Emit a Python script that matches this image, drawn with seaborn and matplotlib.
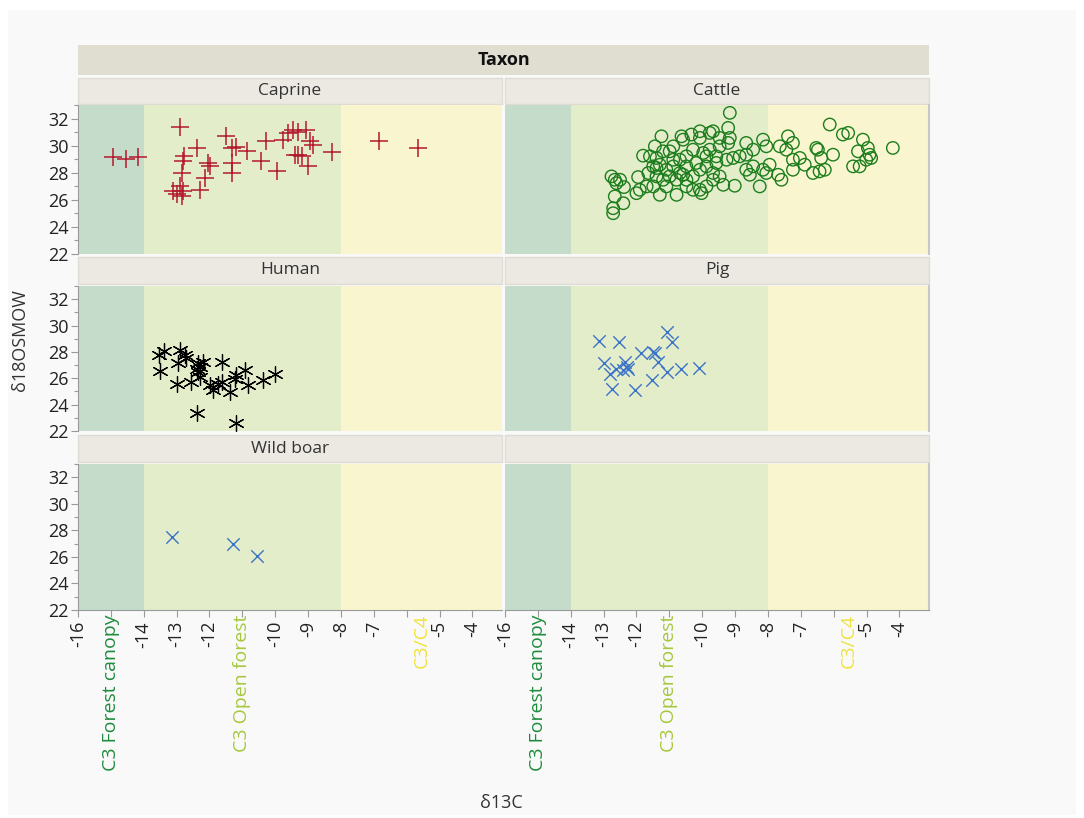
import pandas as pd
import numpy as np
import seaborn as sns
import matplotlib.pyplot as plt
from matplotlib.patches import Rectangle
from matplotlib.ticker import MultipleLocator

sns.set_style("white")
plt.rcParams['font.family'] = ['Open Sans', 'DejaVu Sans']
plt.rcParams['axes.unicode_minus'] = False

# datos (d13C, d18O SMOW)
caprine_x = [-14.95, -14.54, -14.17, -12.90, -13.10, -12.90, -12.85, -12.80, -12.85, -12.82,
             -12.77, -12.39, -12.29, -12.04, -11.99, -12.14, -11.50, -11.31, -11.18, -11.31,
             -11.31, -10.85, -10.42, -10.27, -9.96, -9.76, -9.61, -9.46, -9.32, -9.05,
             -9.30, -9.40, -9.17, -8.95, -8.85, -9.00, -8.27, -6.85, -5.66, -13.00]
caprine_y = [29.16, 29.04, 29.16, 31.38, 26.67, 26.99, 26.25, 26.62, 27.98, 28.84,
             29.21, 29.83, 26.74, 28.72, 28.47, 27.61, 30.74, 29.83, 29.90, 28.72,
             27.98, 29.58, 28.84, 30.32, 28.10, 30.44, 30.94, 31.19, 30.99, 31.19,
             29.33, 29.30, 29.20, 30.32, 30.07, 28.47, 29.53, 30.37, 29.83, 26.40]

cattle_x = [-12.76, -12.66, -12.50, -12.61, -12.38, -12.66, -12.40, -12.71, -12.71, -11.95,
            -11.90, -12.00, -11.24, -11.44, -11.80, -11.59, -11.39, -11.19, -10.99, -10.88,
            -10.63, -10.58, -10.33, -10.07, -10.07, -9.77, -9.67, -9.47, -9.21, -9.16,
            -9.16, -9.21, -8.66, -8.15, -8.05, -8.45, -8.66, -8.86, -9.06, -9.26,
            -9.57, -9.77, -9.97, -10.28, -10.48, -10.68, -10.88, -11.09, -11.29, -11.49,
            -11.64, -11.39, -11.19, -10.99, -10.78, -10.58, -10.48, -10.28, -10.07, -9.87,
            -9.67, -9.47, -9.67, -9.87, -10.07, -10.02, -10.28, -10.48, -10.78, -11.29,
            -11.49, -11.69, -11.09, -9.36, -9.01, -8.66, -8.55, -8.45, -8.15, -7.95,
            -8.25, -8.05, -7.69, -7.59, -7.64, -7.44, -7.39, -7.24, -7.24, -7.03,
            -7.24, -6.88, -6.63, -6.53, -6.48, -6.38, -6.43, -6.27, -6.02, -6.12,
            -5.72, -5.56, -5.41, -5.26, -5.21, -5.11, -4.96, -4.91, -4.86, -4.20,
            -5.01, -10.88, -10.48, -9.87, -9.47, -10.68, -10.18, -11.39, -9.57]
cattle_y = [27.73, 27.48, 27.48, 27.23, 26.94, 26.25, 25.75, 25.38, 25.01, 27.68,
            26.74, 26.49, 30.69, 29.95, 29.26, 29.21, 29.09, 29.58, 29.58, 28.96,
            30.69, 30.44, 30.82, 31.06, 30.57, 30.94, 31.06, 30.57, 31.31, 32.42,
            30.57, 30.20, 30.20, 30.44, 29.95, 29.70, 29.33, 29.21, 29.09, 28.96,
            29.21, 29.70, 29.46, 29.70, 29.21, 28.96, 28.47, 28.22, 28.59, 28.47,
            27.98, 27.73, 27.48, 27.73, 27.48, 27.85, 27.48, 27.73, 28.22, 28.47,
            27.98, 27.73, 27.48, 26.99, 26.74, 26.49, 26.74, 26.99, 26.37, 26.37,
            26.99, 26.99, 26.99, 27.11, 27.04, 28.22, 27.85, 28.47, 28.22, 28.59,
            26.99, 27.98, 27.85, 27.48, 29.95, 29.70, 30.69, 30.20, 28.96, 29.09,
            28.22, 28.59, 27.98, 29.83, 29.70, 29.09, 28.10, 28.22, 29.33, 31.56,
            30.82, 30.94, 28.47, 29.58, 28.47, 30.44, 29.83, 29.33, 29.09, 29.83,
            28.96, 29.95, 28.47, 29.21, 29.95, 27.98, 28.72, 28.35, 28.72]

human_x = [-13.53, -13.39, -13.51, -13.00, -12.90, -12.95, -12.75, -12.70, -12.55, -12.39,
           -12.34, -12.19, -12.29, -12.34, -11.99, -11.89, -11.73, -11.63, -11.63, -11.38,
           -11.23, -11.18, -10.91, -10.82, -10.37, -10.01, -12.39, -11.18, -12.29]
human_y = [27.77, 28.10, 26.56, 25.54, 28.15, 27.13, 27.77, 27.51, 25.72, 26.74,
           27.13, 27.26, 26.10, 26.49, 25.46, 25.08, 25.59, 25.72, 27.26, 24.95,
           25.97, 26.23, 26.62, 25.46, 25.85, 26.36, 23.33, 22.64, 26.87]

pig_x = [-13.14, -12.54, -12.99, -12.81, -12.73, -12.05, -12.35, -12.30, -12.25, -12.40,
         -11.85, -11.49, -11.44, -11.34, -11.54, -11.06, -10.93, -11.06, -10.66, -10.09, -12.61]
pig_y = [28.80, 28.72, 27.13, 26.36, 25.21, 25.08, 27.26, 26.87, 26.74, 26.62,
         27.90, 28.03, 27.90, 27.26, 25.90, 29.49, 28.72, 26.49, 26.67, 26.80, 26.74]

boar_x = [-13.15, -11.28, -10.55]
boar_y = [27.50, 27.00, 26.06]

taxa = ["Caprine", "Cattle", "Human", "Pig", "Wild boar", ""]
datos = {"Caprine": (caprine_x, caprine_y), "Cattle": (cattle_x, cattle_y),
         "Human": (human_x, human_y), "Pig": (pig_x, pig_y), "Wild boar": (boar_x, boar_y)}

# zonas de vegetacion
zone_edges = [-16, -14, -8, -3.1]
zone_names = ["C3 Forest canopy", "C3 Open forest", "C3/C4"]
zone_label_x = [-15, -11, -5.55]
zone_fill = ["#c5dccb", "#e4edca", "#f9f6cf"]
zone_text = ["#1e8c3c", "#a6c83c", "#f0e23c"]

x_ticks = [-16, -15, -14, -13, -12, -11, -10, -9, -8, -7, -6, -5, -4]
x_labels = ["-16", "", "-14", "-13", "-12", "", "-10", "-9", "-8", "-7", "", "-5", "-4"]
y_ticks = [22, 24, 26, 28, 30, 32]

verde = "#1c7d1c"
estilos = {"Caprine": dict(marker="+", color="#b3192e", s=165, linewidth=1.1),
           "Cattle": dict(marker="o", color=verde, facecolor="none", edgecolor=verde,
                          s=80, linewidth=1.0),
           "Human": dict(marker=(6, 2, 0), color="black", s=130, linewidth=0.9),
           "Pig": dict(marker="x", color="#3b73c6", s=80, linewidth=1.0),
           "Wild boar": dict(marker="x", color="#3b73c6", s=80, linewidth=1.0)}

W, H = 1084, 818
fig = plt.figure(figsize=(W / 100, H / 100), dpi=100, facecolor="white")

def caja(x0, y0, x1, y1, fc, ec="none"):
    fig.add_artist(Rectangle((x0 / W, 1 - y1 / H), (x1 - x0) / W, (y1 - y0) / H,
                             transform=fig.transFigure, fc=fc, ec=ec, lw=1, zorder=0))

caja(8, 10, 1076, 815, "#f9f9f9")
caja(78, 45, 929, 75, "#e0ddd1")
fig.text((78 + 929) / 2 / W, 1 - 60 / H, "Taxon", ha="center", va="center",
         fontsize=13, fontweight="bold", color="#111111")

cols_px = [(78, 502), (505, 929)]
rows_px = [(105, 254), (286, 431), (464, 610)]
strips_px = [(78, 104), (257, 284), (435, 462)]

for i, taxon in enumerate(taxa):
    r, c = divmod(i, 2)
    x0, x1 = cols_px[c]
    y0, y1 = rows_px[r]
    s0, s1 = strips_px[r]
    caja(x0, s0, x1, s1, "#ece9e3", "#dedbd5")
    fig.text((x0 + x1) / 2 / W, 1 - (s0 + s1) / 2 / H, taxon, ha="center", va="center",
             fontsize=12.5, color="#333333")

    ax = fig.add_axes([x0 / W, 1 - y1 / H, (x1 - x0) / W, (y1 - y0) / H])
    for k in range(3):
        ax.axvspan(zone_edges[k], zone_edges[k + 1], color=zone_fill[k], lw=0, zorder=0)

    if taxon in datos:
        xs, ys = datos[taxon]
        df = pd.DataFrame({"d13C": xs, "d18O": ys})
        sns.scatterplot(data=df, x="d13C", y="d18O", ax=ax, zorder=3, **estilos[taxon])

    ax.set_xlim(-16, -3.1)
    ax.set_ylim(22, 33)
    ax.set_xlabel("")
    ax.set_ylabel("")
    for sp in ax.spines.values():
        sp.set_visible(False)

    if c == 0:
        ax.spines["left"].set_visible(True)
        ax.spines["left"].set_color("#9a9a9a")
        ax.set_yticks(y_ticks)
        ax.yaxis.set_minor_locator(MultipleLocator(1))
        ax.tick_params(axis="y", which="major", left=True, length=5, width=0.8,
                       color="#9a9a9a", labelsize=13, labelcolor="#222222", pad=2)
        ax.tick_params(axis="y", which="minor", left=True, length=3, width=0.8, color="#9a9a9a")
    else:
        ax.set_yticks([])
        ax.spines["right"].set_visible(True)
        ax.spines["right"].set_color("#c8c8c8")
        ax.spines["right"].set_linewidth(1.5)

    if r == 2:
        ax.spines["bottom"].set_visible(True)
        ax.spines["bottom"].set_color("#9a9a9a")
        ax.set_xticks(x_ticks)
        ax.set_xticklabels(x_labels, rotation=90)
        ax.tick_params(axis="x", bottom=True, length=5, width=0.8, color="#9a9a9a",
                       labelsize=13, labelcolor="#222222", pad=3)
        for k in range(3):
            ax.annotate(zone_names[k], xy=(zone_label_x[k], 0), xycoords=("data", "axes fraction"),
                        xytext=(0, -3), textcoords="offset points", rotation=90,
                        ha="center", va="top", fontsize=14, color=zone_text[k])
    else:
        ax.set_xticks([])

fig.text(20 / W, 1 - 340 / H, "δ18OSMOW", rotation=90, ha="center", va="center",
         fontsize=13, color="#333333")
fig.text(501 / W, 1 - 803 / H, "δ13C", ha="center", va="center", fontsize=13, color="#333333")

plt.savefig("out.png", dpi=100, facecolor=fig.get_facecolor())
